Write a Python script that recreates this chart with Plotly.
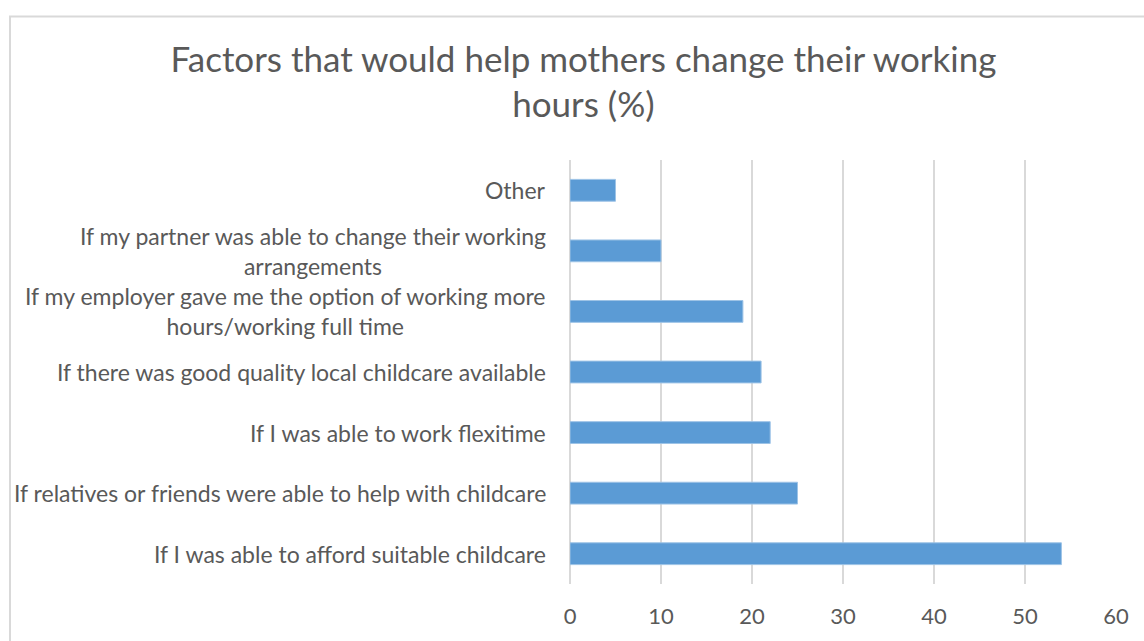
import plotly.graph_objects as go

categories = [
    "If I was able to afford suitable childcare",
    "If relatives or friends were able to help with childcare",
    "If I was able to work flexitime",
    "If there was good quality local childcare available",
    "If my employer gave me the option of working more<br>hours/working full time",
    "If my partner was able to change their working<br>arrangements",
    "Other",
]
values = [54, 25, 22, 21, 19, 10, 5]
x_ticks = [0, 10, 20, 30, 40, 50, 60]

FONT = "Lato"
TXT = "#595959"
GRID = "#d9d9d9"

fig = go.Figure()
fig.add_trace(go.Bar(
    x=values, y=categories, orientation="h",
    marker=dict(color="#5B9BD5", line=dict(color="#9dc3e6", width=1)),
    width=0.36, hoverinfo="x+y",
))

for c in categories:
    fig.add_annotation(
        x=0, xref="paper", y=c, yref="y", text=c, showarrow=False,
        xanchor="right", yanchor="middle", align="center", xshift=-22,
        font=dict(family=FONT, size=23, color=TXT),
    )

fig.update_layout(
    width=1144, height=641,
    margin=dict(l=570, r=28, t=159.5, b=54.5),
    paper_bgcolor="white", plot_bgcolor="white",
    showlegend=False,
    title=dict(
        text="Factors that would help mothers change their working<br>hours (%)",
        x=0.51, xanchor="center", y=1 - 71.5 / 641, yanchor="middle",
        yref="container",
        font=dict(family=FONT, size=35, color=TXT),
    ),
    xaxis=dict(
        range=[0, 60], tickvals=x_ticks, showgrid=True, gridcolor=GRID,
        gridwidth=1.5, zeroline=True, zerolinecolor=GRID, zerolinewidth=1.5,
        showline=False, ticks="",
        tickfont=dict(family=FONT, size=22, color=TXT), ticklabelstandoff=17,
        fixedrange=True,
    ),
    yaxis=dict(
        categoryorder="array", categoryarray=categories,
        showticklabels=False, showgrid=False, zeroline=False, showline=False,
        fixedrange=True,
    ),
    shapes=[dict(
        type="rect", xref="paper", yref="paper",
        x0=(10 - 570) / 546, x1=1.3, y0=-0.5, y1=(586.5 - 15) / 427,
        line=dict(color=GRID, width=2), fillcolor="rgba(0,0,0,0)", layer="below",
    )],
)

fig.write_html("out.html")
